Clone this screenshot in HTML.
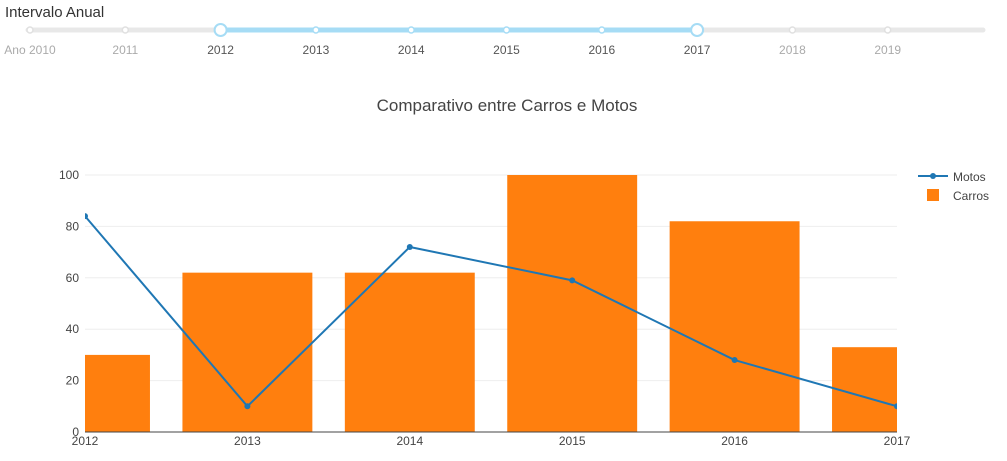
<!DOCTYPE html>
<html><head><meta charset="utf-8"><style>
body{margin:0;background:#fff;font-family:"Liberation Sans",sans-serif;}
svg{display:block}
</style></head><body>
<svg id="s" width="1007" height="461" xmlns="http://www.w3.org/2000/svg">
<text x="5" y="17" font-size="15" fill="#333">Intervalo Anual</text>
<g id="slider"></g>
<text x="507" y="111" font-size="17" fill="#444" text-anchor="middle">Comparativo entre Carros e Motos</text>
<defs><clipPath id="pc"><rect x="85" y="160" width="812" height="272"/></clipPath></defs>
<g id="grid"></g>
<g id="bars" clip-path="url(#pc)"></g>
<g id="line" clip-path="url(#pc)"></g>
<g id="axes"></g>
<g>
<g><line x1="918" y1="176" x2="948" y2="176" stroke="#1f77b4" stroke-width="2"/><circle cx="933" cy="176" r="3" fill="#1f77b4"/><text x="953" y="181" font-size="12" fill="#444">Motos</text></g>
<g><rect x="927" y="189" width="12" height="12" fill="#ff7f0e"/><text x="953" y="200" font-size="12" fill="#444">Carros</text></g>
</g>
</svg>
<script>
const years=[2012,2013,2014,2015,2016,2017];
const carros=[30,62,62,100,82,33];
const motos=[84,10,72,59,28,10];
const yTicks=[0,20,40,60,80,100];
const sliderLabels=["Ano 2010","2011","2012","2013","2014","2015","2016","2017","2018","2019"];
const NS="http://www.w3.org/2000/svg";
function mk(t,a,p){const e=document.createElementNS(NS,t);for(const k in a)e.setAttribute(k,a[k]);p.appendChild(e);return e;}
const x=i=>85+i*(812/(years.length-1));
const y=v=>432-v*2.57;
const bw=812/(years.length-1)*0.8;
const grid=document.getElementById('grid'),axes=document.getElementById('axes');
yTicks.forEach(t=>{
 if(t>0){const l=mk('line',{x1:85,x2:897,y1:y(t),y2:y(t),stroke:'#eee'},grid);
 
 }
 const tx=mk('text',{x:79,y:y(t)+4,'font-size':12,fill:'#444','text-anchor':'end'},axes);tx.textContent=t;
 
 
});
const bars=document.getElementById('bars');
carros.forEach((v,i)=>{const r=mk('rect',{x:x(i)-bw/2,y:y(v),width:bw,height:432-y(v),fill:'#ff7f0e'},bars);
 
 });
const lg=document.getElementById('line');
const pl=mk('polyline',{points:motos.map((v,i)=>x(i)+','+y(v)).join(' '),fill:'none',stroke:'#1f77b4','stroke-width':2},lg);


motos.forEach((v,i)=>{const c=mk('circle',{cx:x(i),cy:y(v),r:3,fill:'#1f77b4'},lg);
 
 });
const ax=mk('line',{x1:85,x2:897,y1:432,y2:432,stroke:'#444','stroke-width':1},axes);


years.forEach((yr,i)=>{const t=mk('text',{x:x(i),y:445,'font-size':12,fill:'#444','text-anchor':'middle'},axes);t.textContent=yr;
 
 });
// slider
const sl=document.getElementById('slider');
const sx=i=>30+i*95.3;
mk('line',{x1:28,x2:983,y1:30,y2:30,stroke:'#e8e8e8','stroke-width':5,'stroke-linecap':'round'},sl);
mk('line',{x1:sx(2),x2:sx(7),y1:30,y2:30,stroke:'#a6dcf5','stroke-width':5},sl);
sliderLabels.forEach((lb,i)=>{
 const act=i>=2&&i<=7;
 mk('circle',{cx:sx(i),cy:30,r:3,fill:'#fff',stroke:act?'#a6dcf5':'#e0e0e0','stroke-width':1.5},sl);
 const t=mk('text',{x:sx(i),y:54,'font-size':12,fill:act?'#555':'#aaa','text-anchor':'middle'},sl);t.textContent=lb;
 
 
});
[2,7].forEach(i=>{const h=mk('circle',{cx:sx(i),cy:30,r:6,fill:'#fff',stroke:'#a6dcf5','stroke-width':2},sl);
 
 });
</script>
</body></html>
